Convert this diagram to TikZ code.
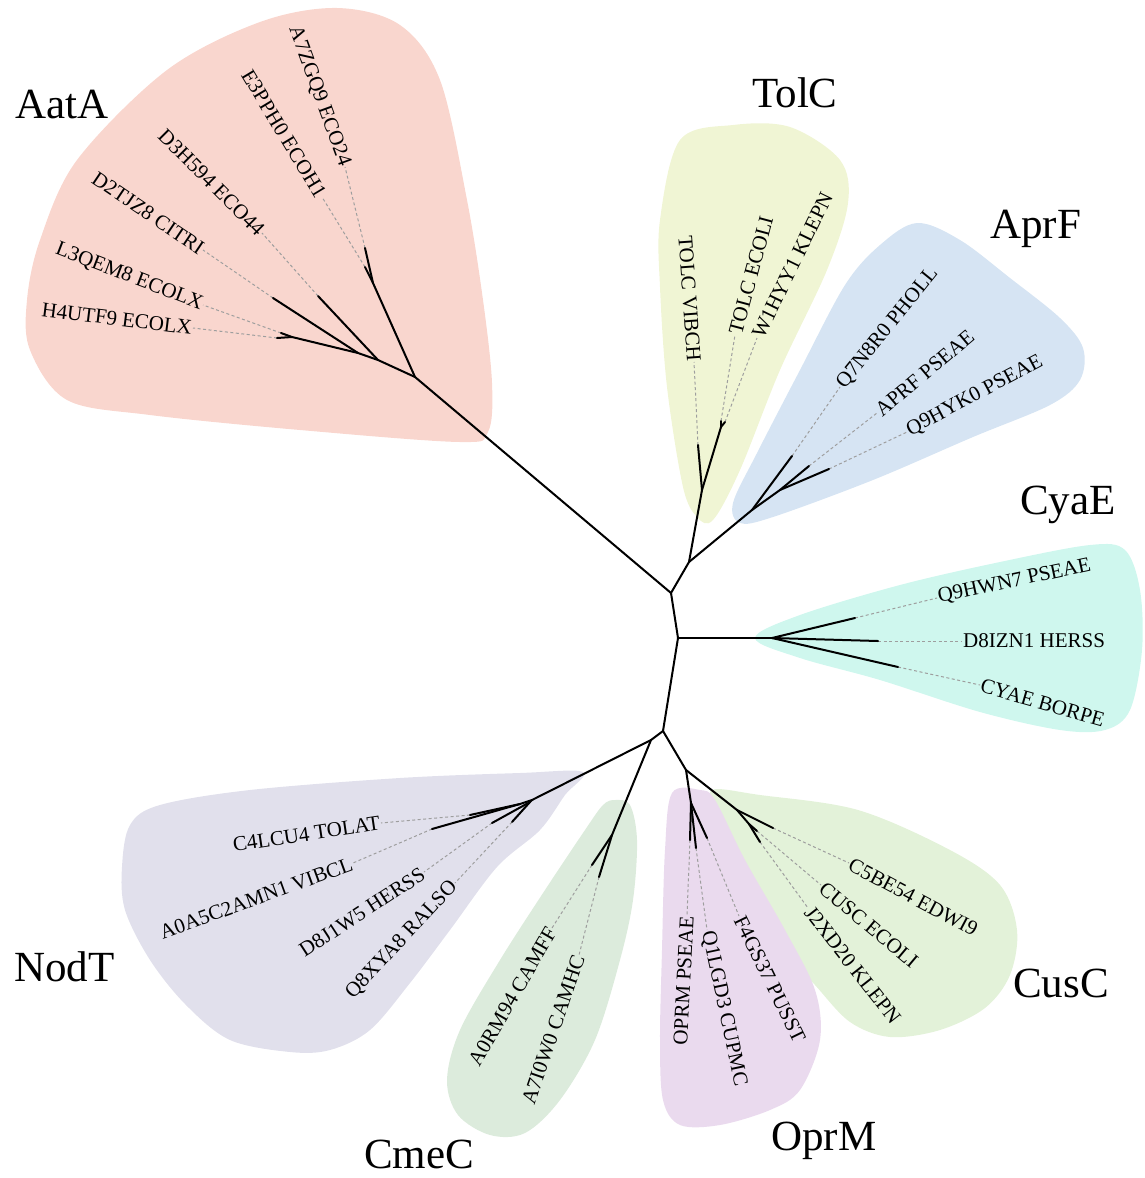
\documentclass[tikz,border=0pt]{standalone}
\usepackage{fontspec}
\setmainfont{Liberation Serif}
\definecolor{cAat}{RGB}{249,214,206}
\definecolor{cTol}{RGB}{240,245,212}
\definecolor{cApr}{RGB}{214,228,243}
\definecolor{cCya}{RGB}{207,247,238}
\definecolor{cCus}{RGB}{227,242,217}
\definecolor{cOpr}{RGB}{234,218,238}
\definecolor{cCme}{RGB}{220,235,220}
\definecolor{cNod}{RGB}{225,224,236}
\begin{document}
\begin{tikzpicture}[x=1pt,y=-1pt,
  branch/.style={line width=2pt, line cap=round, line join=round},
  leafdash/.style={black!38, dash pattern=on 3pt off 2.5pt, line width=1pt},
  leaf/.style={font=\fontsize{21}{24}\selectfont, inner sep=1pt},
  group/.style={font=\fontsize{43}{48}\selectfont, inner sep=0pt, anchor=base west},
  blob/.style={smooth cycle, tension=0.55}]
\useasboundingbox (0,0) rectangle (1145,1178);

% ---------- clade backgrounds ----------
\fill[cAat] plot[blob] coordinates {(337,8) (400,25) (440,80) (467,200) (483,300) (492,383) (488,432) (460,442) (300,430) (150,415) (67,400) (30,350) (27,300) (40,240) (77,160) (167,70) (260,22)};
\fill[cTol] plot[blob] coordinates {(680,140) (733,125) (790,127) (840,160) (848,203) (827,270) (780,370) (740,470) (713,520) (697,517) (683,487) (667,387) (660,287) (660,220)};
\fill[cApr] plot[blob] coordinates {(917,223) (880,245) (845,285) (800,370) (757,453) (733,503) (740,523) (773,517) (873,480) (973,437) (1050,405) (1080,380) (1083,348) (1060,318) (1010,278) (960,240)};
\fill[cCya] plot[blob] coordinates {(755,638) (800,615) (900,585) (1000,562) (1090,545) (1125,550) (1140,590) (1142,650) (1130,710) (1105,730) (1060,730) (980,712) (880,680) (800,658)};
\fill[cCus] plot[blob] coordinates {(712,790) (760,795) (858,810) (950,850) (1000,885) (1017,930) (1010,975) (985,1008) (940,1030) (890,1037) (850,1022) (815,985) (780,945) (745,870) (720,815)};
\fill[cOpr] plot[blob] coordinates {(672,793) (700,790) (715,800) (745,860) (785,930) (815,990) (820,1040) (800,1090) (770,1110) (720,1125) (680,1125) (663,1100) (660,1040) (662,950) (665,850)};
\fill[cCme] plot[blob] coordinates {(615,800) (630,805) (637,840) (633,900) (620,960) (595,1040) (560,1100) (525,1133) (490,1135) (458,1115) (447,1080) (460,1030) (500,960) (545,890) (585,830) (603,805)};
\fill[cNod] plot[blob] coordinates {(583,772) (565,795) (540,830) (497,867) (450,930) (410,983) (370,1030) (330,1050) (290,1052) (230,1040) (186,1005) (150,960) (125,910) (122,867) (130,825) (160,805) (250,790) (400,778) (520,773)};

% ---------- tree coordinates ----------
\coordinate (A) at (671,593);
\coordinate (B) at (678,638);
\coordinate (C) at (663,731);
\coordinate (D) at (689,562);
\coordinate (E) at (651,740);
\coordinate (F) at (686,770);
% AatA
\coordinate (R1) at (415,377);
\coordinate (N1) at (373,283);
\coordinate (N2) at (378,360);
\coordinate (N3) at (358,353);
\coordinate (N4) at (292,337);
\coordinate (tA7) at (365,248);
\coordinate (tE3) at (365,267);
\coordinate (tD3) at (318,296);
\coordinate (tD2) at (273,298);
\coordinate (tL3) at (281,333);
\coordinate (tH4) at (277,338);
% TolC
\coordinate (T1) at (702,490);
\coordinate (T2) at (721,427);
\coordinate (tTV) at (698,445);
\coordinate (tTE) at (721,421);
\coordinate (tW1) at (725,422);
% AprF
\coordinate (P1) at (752,510);
\coordinate (P2) at (780,490);
\coordinate (tQ7) at (792,456);
\coordinate (tAP) at (809,466);
\coordinate (tQ9) at (829,469);
% CyaE
\coordinate (Y1) at (772,638);
\coordinate (tQH) at (855,618);
\coordinate (tD8) at (878,641);
\coordinate (tCY) at (898,667);
% CusC
\coordinate (G) at (737,810);
\coordinate (G2) at (749,824);
\coordinate (tC5) at (773,828);
\coordinate (tCU) at (757,831);
\coordinate (tJ2) at (760,842);
% OprM
\coordinate (O) at (691,803);
\coordinate (tOP) at (690,840);
\coordinate (tQ1) at (696,848);
\coordinate (tF4) at (707,838);
% CmeC
\coordinate (M) at (612,835);
\coordinate (tA0R) at (592,865);
\coordinate (tA7I) at (599,877);
% NodT
\coordinate (N) at (532,800);
\coordinate (Na) at (520,804);
\coordinate (Nb) at (530,802);
\coordinate (tC4) at (470,815);
\coordinate (tA0A) at (432,829);
\coordinate (tD8J) at (492,823);
\coordinate (tQ8) at (512,822);

% ---------- leaf labels ----------
% AatA
\node[leaf, anchor=east, rotate=-70] (lA7) at (345,167) {A7ZGQ9 ECO24};
\node[leaf, anchor=east, rotate=-59] (lE3) at (322,197) {E3PPH0 ECOH1};
\node[leaf, anchor=east, rotate=-45] (lD3) at (262,233) {D3H594 ECO44};
\node[leaf, anchor=east, rotate=-34] (lD2) at (203,250) {D2TJZ8 CITRI};
\node[leaf, anchor=east, rotate=-21] (lL3) at (203,305) {L3QEM8 ECOLX};
\node[leaf, anchor=east, rotate=-7] (lH4) at (193,328) {H4UTF9 ECOLX};
% TolC
\node[leaf, anchor=east, rotate=-86] (lTV) at (694,362) {TOLC VIBCH};
\node[leaf, anchor=west, rotate=75] (lTE) at (735,335) {TOLC ECOLI};
\node[leaf, anchor=west, rotate=64] (lW1) at (757,338) {W1HYY1 KLEPN};
% AprF
\node[leaf, anchor=west, rotate=51] (lQ7) at (840,387) {Q7N8R0 PHOLL};
\node[leaf, anchor=west, rotate=40] (lAP) at (877,413) {APRF PSEAE};
\node[leaf, anchor=west, rotate=28] (lQ9) at (907,432) {Q9HYK0 PSEAE};
% CyaE
\node[leaf, anchor=west, rotate=12] (lQH) at (937,598) {Q9HWN7 PSEAE};
\node[leaf, anchor=west] (lD8) at (962,641) {D8IZN1 HERSS};
\node[leaf, anchor=west, rotate=-16] (lCY) at (980,685) {CYAE BORPE};
% CusC
\node[leaf, anchor=west, rotate=-28] (lC5) at (849,863) {C5BE54 EDWI9};
\node[leaf, anchor=west, rotate=-40] (lCU) at (821,885) {CUSC ECOLI};
\node[leaf, anchor=west, rotate=-52] (lJ2) at (808,908) {J2XD20 KLEPN};
% OprM
\node[leaf, anchor=east, rotate=87] (lOP) at (687,915) {OPRM PSEAE};
\node[leaf, anchor=west, rotate=-78] (lQ1) at (707,930) {Q1LGD3 CUPMC};
\node[leaf, anchor=west, rotate=-64] (lF4) at (739,916) {F4GS37 PUSST};
% CmeC
\node[leaf, anchor=east, rotate=60] (lA0R) at (552,928) {A0RM94 CAMFF};
\node[leaf, anchor=east, rotate=71] (lA7I) at (579,955) {A7I0W0 CAMHC};
% NodT
\node[leaf, anchor=east, rotate=8.5] (lC4) at (381,823) {C4LCU4 TOLAT};
\node[leaf, anchor=east, rotate=20] (lA0A) at (353,863) {A0A5C2AMN1 VIBCL};
\node[leaf, anchor=east, rotate=33] (lD8J) at (424,872) {D8J1W5 HERSS};
\node[leaf, anchor=east, rotate=47] (lQ8) at (455,883) {Q8XYA8 RALSO};

% ---------- dashed leaders ----------
\draw[leafdash] (tA7) -- (lA7.east);
\draw[leafdash] (tE3) -- (lE3.east);
\draw[leafdash] (tD3) -- (lD3.east);
\draw[leafdash] (tD2) -- (lD2.east);
\draw[leafdash] (tL3) -- (lL3.east);
\draw[leafdash] (tH4) -- (lH4.east);
\draw[leafdash] (tTV) -- (lTV.east);
\draw[leafdash] (tTE) -- (lTE.west);
\draw[leafdash] (tW1) -- (lW1.west);
\draw[leafdash] (tQ7) -- (lQ7.west);
\draw[leafdash] (tAP) -- (lAP.west);
\draw[leafdash] (tQ9) -- (lQ9.west);
\draw[leafdash] (tQH) -- (lQH.west);
\draw[leafdash] (tD8) -- (lD8.west);
\draw[leafdash] (tCY) -- (lCY.west);
\draw[leafdash] (tC5) -- (lC5.west);
\draw[leafdash] (tCU) -- (lCU.west);
\draw[leafdash] (tJ2) -- (lJ2.west);
\draw[leafdash] (tOP) -- (lOP.east);
\draw[leafdash] (tQ1) -- (lQ1.west);
\draw[leafdash] (tF4) -- (lF4.west);
\draw[leafdash] (tA0R) -- (lA0R.east);
\draw[leafdash] (tA7I) -- (lA7I.east);
\draw[leafdash] (tC4) -- (lC4.east);
\draw[leafdash] (tA0A) -- (lA0A.east);
\draw[leafdash] (tD8J) -- (lD8J.east);
\draw[leafdash] (tQ8) -- (lQ8.east);

% ---------- branches ----------
\draw[branch] (A) -- (R1);
\draw[branch] (A) -- (D);
\draw[branch] (A) -- (B);
\draw[branch] (B) -- (C);
\draw[branch] (B) -- (Y1);
\draw[branch] (C) -- (E);
\draw[branch] (C) -- (F);
\draw[branch] (E) -- (N);
\draw[branch] (E) -- (M);
\draw[branch] (F) -- (O);
\draw[branch] (F) -- (G);
\draw[branch] (D) -- (T1);
\draw[branch] (D) -- (P1);
\draw[branch] (R1) -- (N1);
\draw[branch] (R1) -- (N2);
\draw[branch] (N1) -- (tA7);
\draw[branch] (N1) -- (tE3);
\draw[branch] (N2) -- (tD3);
\draw[branch] (N2) -- (N3);
\draw[branch] (N3) -- (tD2);
\draw[branch] (N3) -- (N4);
\draw[branch] (N4) -- (tL3);
\draw[branch] (N4) -- (tH4);
\draw[branch] (T1) -- (tTV);
\draw[branch] (T1) -- (T2);
\draw[branch] (T2) -- (tTE);
\draw[branch] (T2) -- (tW1);
\draw[branch] (P1) -- (tQ7);
\draw[branch] (P1) -- (P2);
\draw[branch] (P2) -- (tAP);
\draw[branch] (P2) -- (tQ9);
\draw[branch] (Y1) -- (tQH);
\draw[branch] (Y1) -- (tD8);
\draw[branch] (Y1) -- (tCY);
\draw[branch] (G) -- (tC5);
\draw[branch] (G) -- (G2);
\draw[branch] (G2) -- (tCU);
\draw[branch] (G2) -- (tJ2);
\draw[branch] (O) -- (tOP);
\draw[branch] (O) -- (tQ1);
\draw[branch] (O) -- (tF4);
\draw[branch] (M) -- (tA0R);
\draw[branch] (M) -- (tA7I);
\draw[branch] (N) -- (Na);
\draw[branch] (N) -- (Nb);
\draw[branch] (Na) -- (tC4);
\draw[branch] (Na) -- (tA0A);
\draw[branch] (Nb) -- (tD8J);
\draw[branch] (Nb) -- (tQ8);

% ---------- clade names ----------
\node[group] (gAat) at (15,118) {AatA};
\node[group] (gTol) at (752,107) {TolC};
\node[group] (gApr) at (990,238) {AprF};
\node[group] (gCya) at (1020,514) {CyaE};
\node[group] (gCus) at (1013,997) {CusC};
\node[group] (gOpr) at (771,1150) {OprM};
\node[group] (gCme) at (364,1168) {CmeC};
\node[group] (gNod) at (14,981) {NodT};
\end{tikzpicture}
\end{document}
